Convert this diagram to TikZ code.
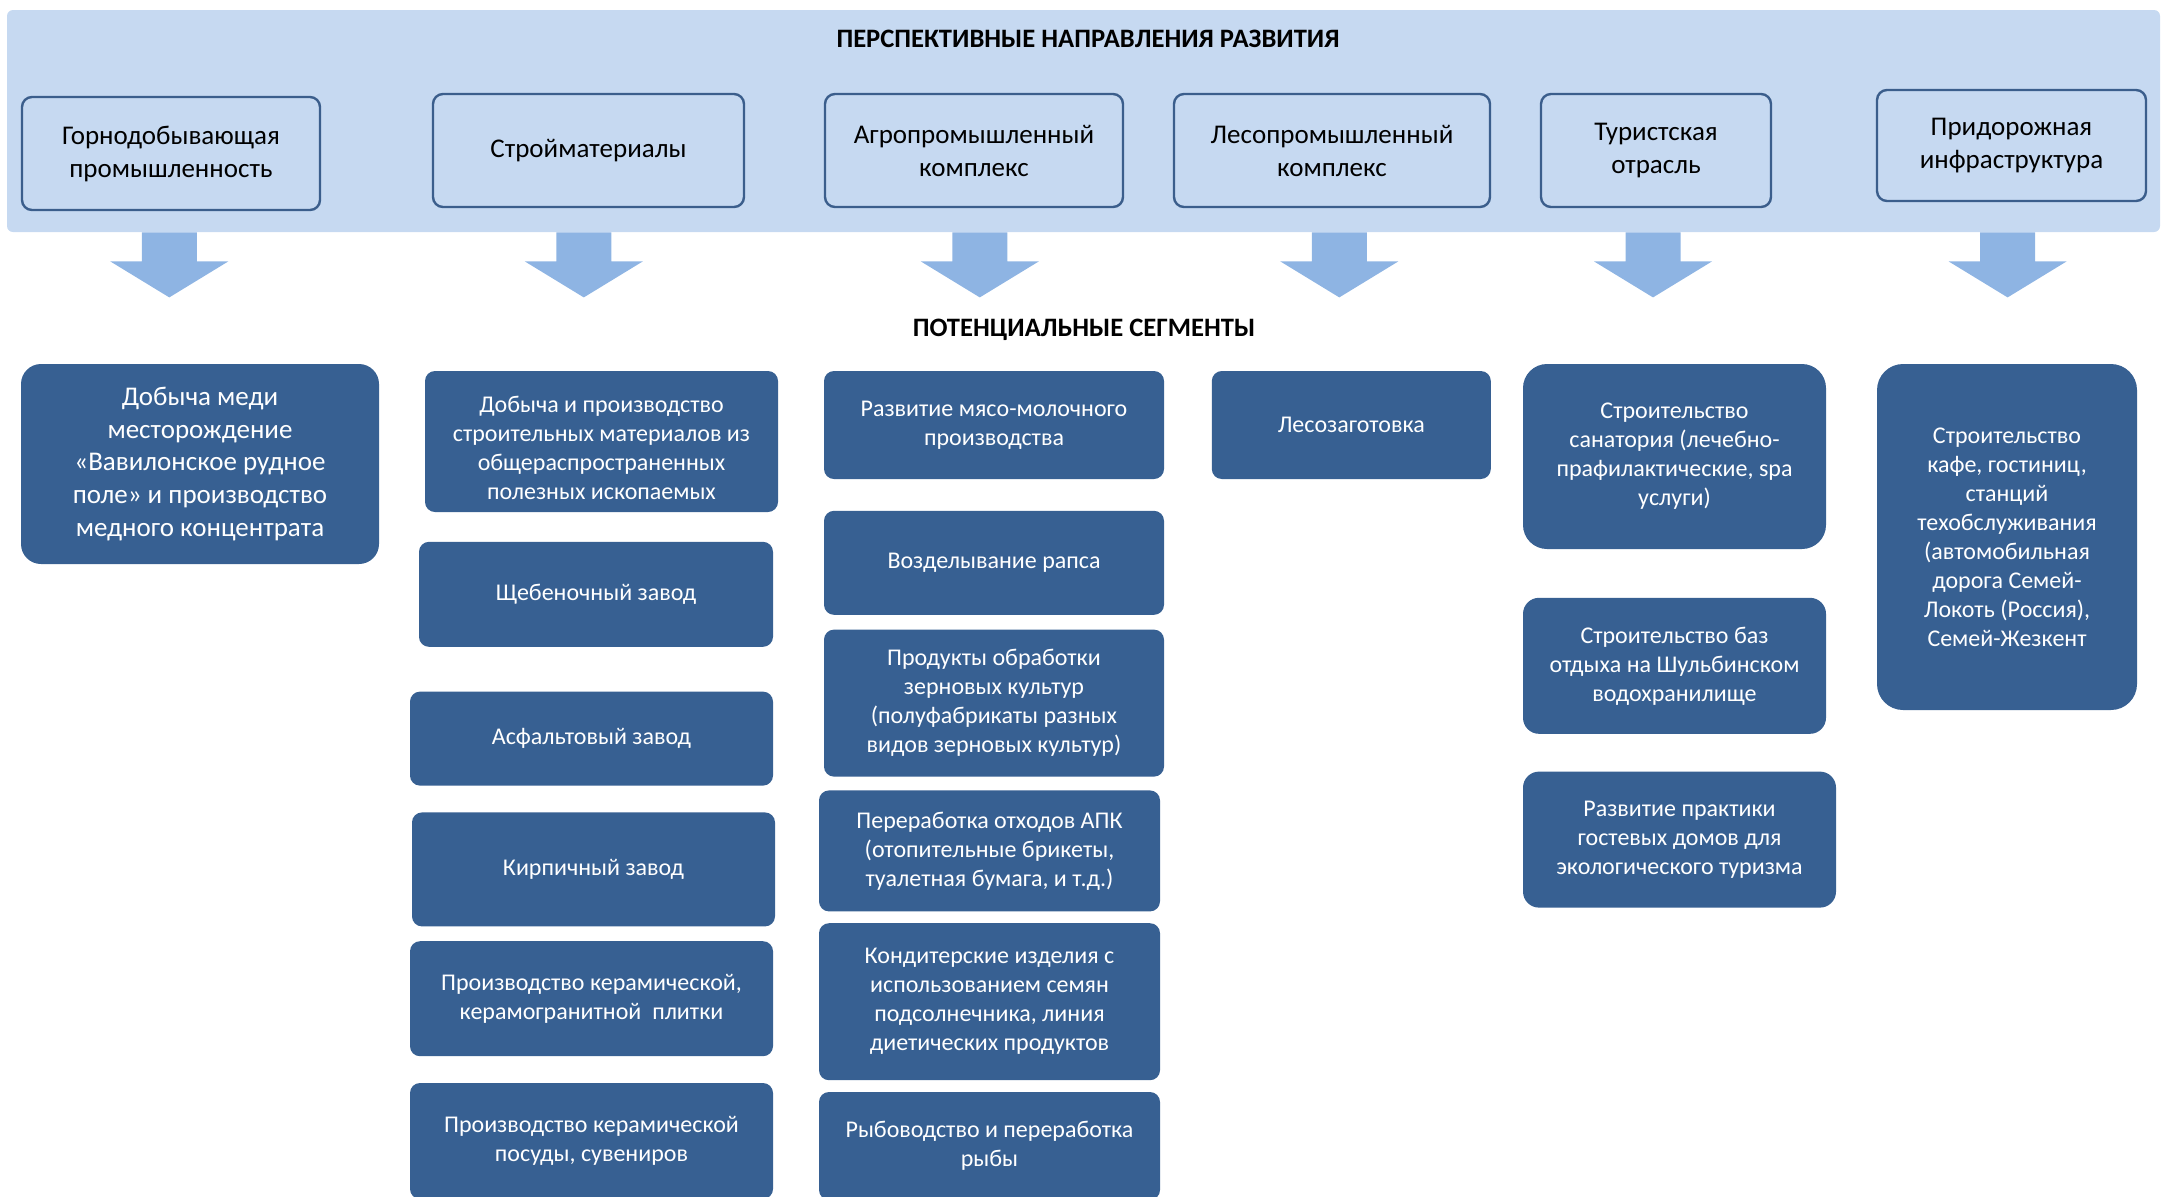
\documentclass[tikz,border=0pt]{standalone}
\usepackage{fontspec}
\setmainfont{Carlito}
\usepackage{tikz}
\usetikzlibrary{positioning}
\definecolor{bandfill}{HTML}{C6D9F1}
\definecolor{dirline}{HTML}{3B5E8C}
\definecolor{segfill}{HTML}{376092}
\definecolor{arrowblue}{HTML}{8EB4E3}

\begin{document}
\begin{tikzpicture}[x=1pt,y=1pt,
	dirbox/.style={draw=dirline, line width=1.2pt, outer sep=0pt, fill=bandfill, rounded corners=5pt, align=center, inner sep=0pt, font=\fontsize{13.5}{16.5}\selectfont},
	segtext/.style={text=white, align=center, inner sep=0pt, font=\fontsize{12}{14.5}\selectfont},
	segbox/.style={segtext, fill=segfill, rounded corners=5pt},
	headline/.style={font=\fontsize{13.3}{16}\selectfont\bfseries}]
	\useasboundingbox (0,0) rectangle (1081.5,-598);
	
	\node(band)[fill=bandfill, rounded corners=3pt, minimum width=1076.5pt, minimum height=111pt] at (541.75,-60.5) {};
	\node(title)[headline] at (544,-19.5) {ПЕРСПЕКТИВНЫЕ НАПРАВЛЕНИЯ РАЗВИТИЯ};
	
	\node(g1)[dirbox, minimum width=149pt, minimum height=56.5pt] at (85.5,-76.75) {Горнодобывающая\\промышленность};
	\node(g2)[dirbox, minimum width=155.5pt, minimum height=56.5pt, right=56.5pt of g1, yshift=1.5pt] {Стройматериалы};
	\node(g3)[dirbox, minimum width=149pt, minimum height=56.5pt, right=40.5pt of g2] {Агропромышленный\\комплекс};
	\node(g4)[dirbox, minimum width=158pt, minimum height=56.5pt, right=25.5pt of g3] {Лесопромышленный\\комплекс};
	\node(g5)[dirbox, minimum width=115pt, minimum height=56.5pt, right=25.5pt of g4] {Туристская\\отрасль};
	\node(g6)[dirbox, minimum width=134.5pt, minimum height=55.5pt, right=53pt of g5, yshift=2.5pt] {Придорожная\\инфраструктура};
	
	\foreach \n/\dx in {g1/-0.85, g2/-2.35, g3/2.9, g4/3.65, g5/-1.5, g6/-1.95}
		\fill[arrowblue] (\n.south |- band.south) ++(\dx-13.75,0) -- ++(0,-14.5) -- ++(-15.75,0) -- ++(29.5,-18) -- ++(29.5,18) -- ++(-15.75,0) -- ++(0,14.5) -- cycle;
	
	\node(seg)[headline] at (542,-164.9) {ПОТЕНЦИАЛЬНЫЕ СЕГМЕНТЫ};
	
	\node(d1)[segbox, rounded corners=10pt, font=\fontsize{13.5}{16.4}\selectfont, minimum width=179pt, minimum height=100pt] at (100,-232) {Добыча меди\\месторождение\\«Вавилонское рудное\\поле» и производство\\медного концентрата};
	
	\node(s2a)[segbox, minimum width=176.5pt, minimum height=70.5pt] at (300.75,-220.75) {};
	\begin{scope}
		\clip (s2a.north west) rectangle ([yshift=6.5pt]s2a.south east);
		\node(s2at)[segtext, yshift=-3pt] at (s2a) {Добыча и производство\\строительных материалов из\\общераспространенных\\полезных ископаемых};
	\end{scope}
	\node(s2b)[segbox, minimum width=177pt, minimum height=52.5pt, below=14.5pt of s2a, xshift=-2.75pt] {Щебеночный завод};
	\node(s2c)[segbox, minimum width=181.5pt, minimum height=47pt, below=22pt of s2b, xshift=-2.25pt] {Асфальтовый завод};
	\node(s2d)[segbox, minimum width=181.5pt, minimum height=57pt, below=13pt of s2c, xshift=1pt] {Кирпичный завод};
	\node(s2e)[segbox, minimum width=181.5pt, minimum height=57.5pt, below=7pt of s2d, xshift=-1pt] {Производство керамической,\\керамогранитной\ \ плитки};
	\node(s2f)[segbox, minimum width=181.5pt, minimum height=58pt, below=13pt of s2e] {Производство керамической\\посуды, сувениров};
	
	\node(s3a)[segbox, minimum width=170pt, minimum height=54pt] at (497,-212.5) {Развитие мясо-молочного\\производства};
	\node(s3b)[segbox, minimum width=170pt, minimum height=52pt, below=15.5pt of s3a] {Возделывание рапса};
	\node(s3c)[segbox, minimum width=170pt, minimum height=73.5pt, below=7pt of s3b] {Продукты обработки\\зерновых культур\\(полуфабрикаты разных\\видов зерновых культур)};
	\node(s3d)[segbox, minimum width=170.5pt, minimum height=60.5pt, below=6.5pt of s3c, xshift=-2.25pt] {Переработка отходов АПК\\(отопительные брикеты,\\туалетная бумага, и т.д.)};
	\node(s3e)[segbox, minimum width=170.5pt, minimum height=78.5pt, below=5.5pt of s3d] {Кондитерские изделия с\\использованием семян\\подсолнечника, линия\\диетических продуктов};
	\node(s3f)[segbox, minimum width=170.5pt, minimum height=54pt, below=5.5pt of s3e] {Рыбоводство и переработка\\рыбы};
	
	\node(s4a)[segbox, minimum width=139.5pt, minimum height=54pt, right=23.5pt of s3a] {Лесозаготовка};
	
	\node(s5a)[segbox, rounded corners=12pt, minimum width=151.5pt, minimum height=92.5pt] at (837.25,-228.25) {Строительство\\санатория (лечебно-\\прафилактические, spa\\услуги)};
	\node(s5b)[segbox, rounded corners=8pt, minimum width=151.5pt, minimum height=68pt, below=24pt of s5a] {Строительство баз\\отдыха на Шульбинском\\водохранилище};
	\node(s5c)[segbox, rounded corners=8pt, minimum width=156.5pt, minimum height=68pt, below=18.5pt of s5b, xshift=2.5pt] {Развитие практики\\гостевых домов для\\экологического туризма};
	
	\node(s6a)[segbox, rounded corners=13pt, minimum width=130pt, minimum height=173pt] at (1003.5,-268.5) {Строительство\\кафе, гостиниц,\\станций\\техобслуживания\\(автомобильная\\дорога Семей-\\Локоть (Россия),\\Семей-Жезкент};
\end{tikzpicture}
\end{document}
